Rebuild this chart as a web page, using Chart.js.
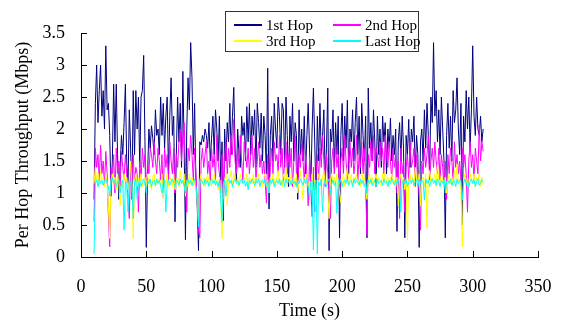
<!DOCTYPE html>
<html>
<head>
<meta charset="utf-8">
<script src="https://cdn.jsdelivr.net/npm/chart.js@4"></script>
<style>
  body { margin: 0; background: #fff; }
  #wrap { position: relative; width: 561px; height: 320px; }
  #legend {
    position: absolute; left: 225px; top: 11px; width: 192px; height: 39px;
    border: 1px solid #333; background: #fff;
    font-family: "Liberation Serif", "Times New Roman", serif; font-size: 15px; color: #000;
  }
  .item { position: absolute; height: 16px; line-height: 16px; white-space: nowrap; }
  .item .swatch { position: absolute; left: 0; top: 7px; width: 28px; height: 2px; }
  .item .label { position: absolute; left: 32px; top: 0; }
</style>
</head>
<body>
<div id="wrap">
  <canvas id="hopChart" width="561" height="320"></canvas>
  <div id="legend"></div>
</div>
<script>
// sampled once per second, starting at t = 10 s
const startTime = 10;

const hop1 = [
  0.9,2.4,3.0,2.1,2.6,3.0,2.2,2.6,2.0,3.3,
  2.3,2.4,1.9,0.95,1.5,2.7,1.8,2.7,1.6,0.9,
  1.4,1.9,1.6,2.1,2.7,1.5,1.1,2.3,1.7,0.9,
  2.6,1.6,2.6,2.0,2.5,1.4,2.5,2.6,3.15,1.8,
  0.15,1.3,2.0,1.7,2.05,1.85,1.6,2.3,1.9,2.0,
  1.6,2.5,1.9,2.4,1.7,2.2,2.5,1.3,2.2,2.8,
  1.9,2.2,0.55,1.6,2.5,1.8,2.4,1.4,2.9,1.7,
  0.27,2.0,2.8,2.3,3.35,2.8,1.6,2.4,1.2,0.8,
  0.1,1.8,1.75,1.9,1.8,2.0,1.9,1.7,2.1,1.5,
  1.85,2.2,1.6,2.3,2.0,1.5,2.2,1.2,1.8,0.57,
  2.0,1.5,2.1,1.8,2.4,1.6,2.2,2.65,1.7,1.2,
  2.0,1.6,1.4,2.2,1.9,2.1,1.5,2.35,1.8,2.4,
  1.6,2.2,1.9,2.3,1.4,2.4,2.1,1.7,2.25,1.5,
  2.2,1.9,1.3,2.95,0.75,1.9,2.2,1.5,2.4,2.0,
  1.7,2.5,2.2,1.6,2.4,2.3,1.4,2.5,1.9,1.1,
  2.2,1.8,2.4,1.5,2.1,1.9,0.9,2.3,1.6,2.0,
  1.5,2.2,1.3,1.9,2.4,1.7,1.1,2.0,2.64,1.8,
  0.9,2.2,1.5,2.4,1.6,1.9,2.3,1.2,1.7,2.64,
  0.1,2.0,1.8,2.3,1.4,2.1,1.6,2.2,0.3,1.9,
  2.4,1.5,2.2,1.7,2.45,1.3,2.0,1.8,2.3,1.5,
  2.1,2.5,1.6,2.2,1.3,2.4,1.9,1.5,2.2,0.3,
  2.64,1.7,2.1,1.5,2.3,1.8,1.1,2.2,1.6,2.0,
  1.4,2.2,1.8,2.1,1.3,2.0,1.7,2.17,1.5,1.9,
  1.6,2.0,0.4,1.8,2.1,1.5,2.2,1.7,0.3,1.9,
  1.6,2.15,1.4,2.0,1.8,2.2,1.3,1.9,1.6,0.15,
  1.8,2.0,1.5,2.3,1.7,2.4,1.9,1.3,2.5,2.1,
  3.35,2.2,2.6,1.8,2.3,1.6,2.5,2.0,1.5,0.3,
  1.9,2.4,1.7,2.2,1.5,2.6,2.1,2.3,2.8,2.0,
  1.6,2.4,0.5,2.2,1.8,2.6,2.0,2.5,1.7,2.3,
  3.3,2.2,1.9,2.5,2.0,1.9,2.2,1.8,2.0
];

const hop2 = [
  0.55,1.7,1.4,1.6,1.2,1.75,1.3,1.5,1.1,1.65,
  1.3,0.63,0.16,1.4,1.2,1.6,1.0,1.7,1.3,1.5,
  1.1,1.65,1.4,1.2,1.6,1.3,0.9,0.6,1.5,1.2,
  1.6,1.1,1.4,1.3,0.7,1.5,1.2,1.7,1.4,1.6,
  1.0,1.5,1.3,1.7,1.6,1.4,1.8,1.5,1.3,1.7,
  1.5,1.2,1.6,0.93,1.7,1.4,1.6,1.2,1.8,1.5,
  1.3,1.7,1.0,1.6,1.4,1.8,2.0,1.5,1.9,2.1,
  1.4,0.7,1.7,1.5,1.9,1.6,1.2,1.7,1.3,0.9,
  0.42,0.3,1.5,1.7,1.4,1.6,1.8,1.3,1.5,1.2,
  1.7,1.4,1.6,1.2,1.9,1.5,1.3,1.0,1.6,0.9,
  1.5,1.8,1.3,1.7,1.4,1.9,1.6,2.15,1.5,1.3,
  1.7,1.4,1.9,1.5,1.2,1.8,1.6,1.4,1.7,1.3,
  1.6,1.9,1.4,1.7,1.2,1.5,1.8,1.4,1.6,1.3,
  1.5,1.2,0.84,1.6,1.0,1.4,1.7,1.3,1.8,1.5,
  1.6,1.3,1.9,1.4,1.7,1.2,1.5,1.8,1.3,1.6,
  1.4,1.7,1.1,1.5,1.9,1.3,1.0,1.6,1.4,1.8,
  1.5,1.2,1.6,1.3,0.8,1.5,1.1,0.63,1.4,0.7,
  1.3,1.6,1.2,1.7,1.4,1.9,1.5,1.1,1.6,1.3,
  0.9,0.6,1.5,1.7,1.3,1.8,1.4,1.6,1.0,1.5,
  1.7,1.3,1.9,1.5,1.2,1.6,1.8,1.4,1.7,1.3,
  1.5,1.9,1.2,1.6,1.4,1.8,1.3,1.7,1.1,0.34,
  1.6,1.4,1.8,1.5,1.9,1.3,1.7,1.6,1.4,1.8,
  1.5,1.7,1.3,1.9,1.6,1.4,1.8,1.5,1.2,1.7,
  1.4,1.6,1.0,1.5,0.6,1.7,1.3,1.5,0.7,1.4,
  1.6,1.2,1.8,1.4,1.5,1.7,1.1,1.6,1.3,1.0,
  0.42,1.5,1.3,1.7,1.4,1.6,1.9,1.2,1.5,1.7,
  1.4,1.8,1.5,1.3,1.7,1.2,1.6,1.4,1.1,1.5,
  0.9,1.6,1.3,1.7,1.5,1.2,1.8,1.4,1.6,1.3,
  1.5,1.2,1.7,1.4,1.6,1.3,0.7,1.5,1.8,1.4,
  1.6,1.2,1.7,1.5,1.3,2.06,1.5,1.8,1.65
];

const hop3 = [
  1.15,1.4,1.2,1.3,1.1,1.35,1.2,1.25,1.1,1.3,
  1.15,0.8,0.29,1.2,1.3,1.1,1.25,1.05,1.3,1.15,
  0.8,1.2,1.1,1.3,1.15,1.25,1.05,1.2,1.5,1.1,
  0.29,1.2,1.3,1.1,1.25,1.15,1.3,1.1,1.2,1.25,
  1.1,1.3,1.15,1.2,1.05,1.25,1.3,1.1,1.2,1.15,
  1.25,1.1,1.3,0.9,1.2,1.15,1.3,1.1,1.25,1.2,
  1.1,1.3,1.05,1.2,1.25,1.1,1.35,1.2,1.15,1.3,
  0.95,1.2,1.1,1.3,1.15,1.25,1.1,1.2,1.05,0.9,
  0.55,1.2,1.3,1.15,1.25,1.1,1.2,1.3,1.15,1.2,
  1.1,1.25,1.3,1.15,1.2,1.05,1.25,0.9,0.29,1.1,
  1.2,1.3,0.8,1.15,1.25,1.35,1.1,1.3,1.2,1.15,
  1.25,1.1,1.3,1.2,1.15,1.25,1.2,1.3,1.1,1.25,
  1.2,1.15,1.3,1.1,1.25,1.2,1.3,1.15,1.2,1.1,
  1.25,1.3,1.1,1.2,1.0,1.25,1.15,1.3,1.2,1.1,
  1.25,1.35,1.15,1.2,1.1,1.3,1.2,1.4,1.1,1.25,
  1.2,1.3,1.15,1.25,1.1,1.3,1.0,1.2,1.35,1.15,
  0.9,1.25,1.2,1.3,1.1,1.2,1.05,1.3,0.8,1.2,
  0.8,1.15,1.3,1.2,1.1,1.25,1.35,1.15,1.2,1.05,
  0.6,1.2,1.3,1.15,1.25,1.1,1.3,1.2,1.0,0.85,
  1.2,1.3,1.1,1.25,1.4,1.15,1.2,1.3,1.1,1.25,
  1.2,1.3,1.15,1.2,1.1,1.35,1.2,1.25,1.1,0.9,
  1.2,1.3,1.15,1.25,1.1,1.2,1.3,1.15,1.25,1.2,
  1.1,1.3,1.2,1.35,1.15,1.25,1.1,1.2,1.3,1.15,
  1.2,1.1,1.25,0.8,1.2,1.3,1.15,1.25,1.05,1.2,
  0.26,1.2,1.3,1.15,1.25,1.1,1.4,1.2,1.15,1.3,
  0.8,1.2,1.25,1.1,1.3,0.45,1.2,1.35,1.15,1.25,
  1.2,1.3,1.1,1.45,1.2,1.15,1.3,1.2,1.1,1.25,
  1.0,1.2,1.3,1.15,1.25,1.1,1.35,1.2,1.45,1.15,
  1.2,1.05,0.16,1.2,1.3,1.15,1.25,1.1,1.3,1.2,
  1.15,1.3,1.1,1.25,1.2,1.3,1.1,1.25,1.15
];

const hopLast = [
  0.05,1.15,1.2,1.1,1.22,1.15,1.2,1.12,1.18,1.22,
  1.15,1.1,0.95,1.2,1.25,1.15,1.2,1.1,1.18,1.22,
  1.0,1.15,1.2,0.42,1.18,1.12,0.7,1.2,1.15,1.1,
  0.6,1.18,1.22,0.9,1.15,1.2,1.1,1.18,1.22,1.15,
  1.0,1.2,1.15,1.22,1.1,1.18,1.2,1.12,1.22,1.15,
  1.2,1.1,1.0,1.18,1.22,0.7,1.15,1.2,1.12,1.18,
  1.22,1.15,1.1,1.2,1.18,1.12,1.22,1.15,1.2,1.1,
  1.0,1.18,1.22,1.15,1.2,1.12,1.18,1.22,1.1,0.9,
  0.47,1.15,1.2,1.18,1.12,1.22,1.15,1.2,1.1,1.18,
  1.22,1.15,1.2,1.12,1.18,1.1,1.2,0.9,0.55,1.15,
  1.2,0.95,1.18,1.22,1.15,1.2,1.1,1.18,1.22,1.15,
  1.2,1.12,1.18,1.22,1.15,1.2,1.1,1.18,1.05,1.2,
  1.15,1.22,1.18,1.12,1.2,1.15,1.22,1.1,1.18,1.2,
  1.15,1.22,1.12,1.18,1.0,1.2,1.15,1.22,1.1,1.18,
  1.2,1.15,1.22,1.12,1.18,1.2,1.1,1.22,1.15,1.18,
  1.2,1.12,1.22,1.15,1.18,1.1,1.2,1.15,1.22,1.18,
  1.12,1.2,1.15,1.22,1.1,0.9,1.18,1.2,0.11,1.15,
  1.2,0.05,1.18,1.12,1.22,0.7,1.15,1.2,1.1,1.18,
  1.22,1.0,1.15,1.2,1.12,1.18,0.68,1.2,1.15,1.22,
  1.1,1.18,1.2,1.15,1.22,1.12,1.18,1.2,1.1,1.22,
  1.15,1.2,1.18,1.12,1.22,1.15,1.2,1.1,1.18,1.0,
  1.2,1.15,1.22,1.12,1.18,1.2,1.1,1.22,1.15,1.18,
  1.2,1.12,1.22,1.15,1.18,1.1,1.2,1.15,1.22,1.18,
  1.12,1.2,1.15,1.22,1.1,0.7,1.18,1.2,1.15,1.22,
  1.1,1.18,1.2,1.15,1.22,1.12,1.18,1.2,1.1,1.22,
  1.15,1.2,1.18,0.89,1.22,1.15,1.2,1.1,1.18,1.22,
  1.15,1.2,1.12,1.22,1.18,1.1,1.2,1.15,1.22,1.0,
  1.18,1.2,1.15,1.22,1.12,1.18,1.2,1.1,1.22,1.15,
  1.2,1.18,0.89,1.15,1.22,1.12,1.2,1.1,1.18,1.22,
  1.15,1.2,1.1,1.18,1.22,1.12,1.15,1.2,1.18
];

const seriesNames = ['1st Hop', '2nd Hop', '3rd Hop', 'Last Hop'];
const seriesColors = ['#000080', '#ff00ff', '#ffff00', '#00ffff'];
const xTicks = [0, 50, 100, 150, 200, 250, 300, 350];
const yTicks = [0, 0.5, 1, 1.5, 2, 2.5, 3, 3.5];

const serif = '"Liberation Serif", "Times New Roman", serif';

function toPoints(values) {
  return values.map((v, i) => ({ x: startTime + i, y: v }));
}

const allSeries = [hop1, hop2, hop3, hopLast];

// small tick marks pointing into the plot, like the original
const innerTicks = {
  id: 'innerTicks',
  afterDraw(chart) {
    const { ctx, chartArea, scales } = chart;
    ctx.save();
    ctx.strokeStyle = '#000';
    ctx.lineWidth = 1;
    ctx.beginPath();
    xTicks.forEach(v => {
      const px = Math.round(scales.x.getPixelForValue(v)) + 0.5;
      ctx.moveTo(px, chartArea.bottom);
      ctx.lineTo(px, chartArea.bottom - 6);
    });
    yTicks.forEach(v => {
      const py = Math.round(scales.y.getPixelForValue(v)) + 0.5;
      ctx.moveTo(chartArea.left, py);
      ctx.lineTo(chartArea.left + 6, py);
    });
    ctx.stroke();
    ctx.restore();
  }
};

new Chart(document.getElementById('hopChart'), {
  type: 'line',
  data: {
    datasets: allSeries.map((vals, i) => ({
      label: seriesNames[i],
      data: toPoints(vals),
      borderColor: seriesColors[i],
      borderWidth: 1,
      pointRadius: 0,
      tension: 0,
      fill: false,
      order: 4 - i
    }))
  },
  options: {
    responsive: false,
    animation: false,
    layout: { padding: { top: 33, right: 23, left: 0, bottom: 0 } },
    plugins: {
      legend: { display: false },
      tooltip: { enabled: false }
    },
    scales: {
      x: {
        type: 'linear',
        min: 0,
        max: 350,
        afterFit: scale => {
          scale.height = 63;
          scale.paddingLeft = 0;
          scale.paddingRight = 0;
        },
        afterBuildTicks: scale => { scale.ticks = xTicks.map(v => ({ value: v })); },
        grid: { display: false, drawTicks: false },
        border: { display: true, color: '#000', width: 1 },
        ticks: { color: '#000', padding: 19, maxRotation: 0, font: { family: serif, size: 18 } },
        title: {
          display: true,
          text: 'Time (s)',
          color: '#000',
          padding: { top: 0, bottom: 0 },
          font: { family: serif, size: 18, lineHeight: 1 }
        }
      },
      y: {
        min: 0,
        max: 3.5,
        afterFit: scale => {
          scale.width = 81;
          scale.paddingTop = 0;
          scale.paddingBottom = 0;
        },
        afterBuildTicks: scale => { scale.ticks = yTicks.map(v => ({ value: v })); },
        grid: { display: false, drawTicks: false },
        border: { display: true, color: '#000', width: 1 },
        ticks: {
          color: '#000',
          padding: 16,
          font: { family: serif, size: 18 },
          callback: v => String(v)
        },
        title: {
          display: true,
          text: 'Per Hop Throughput (Mbps)',
          color: '#000',
          padding: { top: 14, bottom: 0 },
          font: { family: serif, size: 18, lineHeight: 1 }
        }
      }
    }
  },
  plugins: [innerTicks]
});

// legend laid out as a 2 x 2 box, as in the original
const legendBox = document.getElementById('legend');
const legendPos = [[8, 5], [107, 5], [8, 21], [107, 21]];
seriesNames.forEach((name, i) => {
  const item = document.createElement('div');
  item.className = 'item';
  item.style.left = legendPos[i][0] + 'px';
  item.style.top = legendPos[i][1] + 'px';
  const swatch = document.createElement('div');
  swatch.className = 'swatch';
  swatch.style.backgroundColor = seriesColors[i];
  const label = document.createElement('div');
  label.className = 'label';
  label.textContent = name;
  item.appendChild(swatch);
  item.appendChild(label);
  legendBox.appendChild(item);
});
</script>
</body>
</html>
